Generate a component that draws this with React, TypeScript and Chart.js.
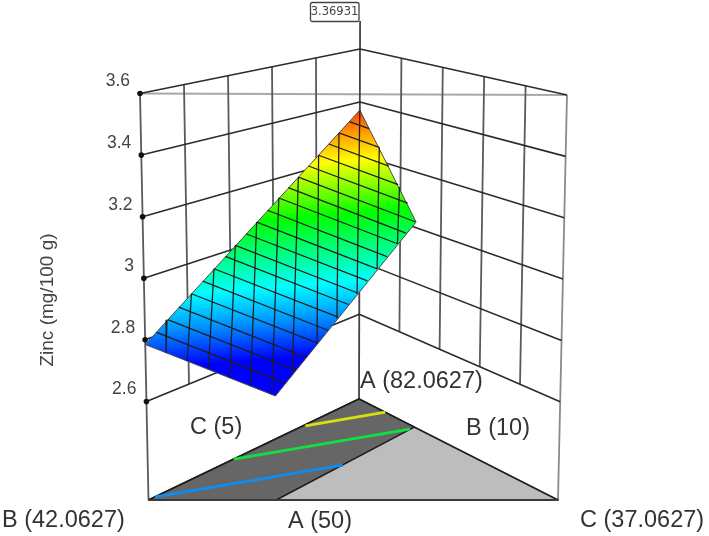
import React, { useEffect, useRef } from "react";
import { Chart, registerables } from "chart.js";

Chart.register(...registerables);

// Mixture bounds
const aMin = 50;
const aMax = 82.0627;
const bMin = 10;
const cMin = 5;
const mixRange = aMax - aMin;
const mixTotal = aMax + bMin + cMin;

// Zinc axis
const zincTicks = [2.6, 2.8, 3.0, 3.2, 3.4, 3.6];
const zincTickLabels = ["2.6", "2.8", "3", "3.2", "3.4", "3.6"];
const zincFloor = 2.28;
const zincTop = 3.6;
const calloutValue = 3.36931;
const calloutTopZinc = 3.706;

// A levels of the wall grid
const wallALevels = [56.41, 62.83, 69.24, 75.65];

// Design region corners: [A, C, zinc]
const surfaceCorners = [
  [50, 5, 2.785],
  [50, 15.0, 2.618],
  [73.15, 13.91, 3.021],
  [82.0627, 5, 3.36931],
];

// Mesh family 1: constant-A lines. A, zinc at C=5, C at far end, zinc at far end
const meshA = [51.7, 53.4, 55.1, 57.0, 58.7, 60.4, 62.1, 63.6, 65.2, 66.8, 68.4, 70.1, 71.5, 73.0, 74.5, 76.0, 77.5, 79.0, 80.6];
const meshAZincNear = [2.811, 2.839, 2.867, 2.897, 2.926, 2.955, 2.984, 3.011, 3.039, 3.068, 3.098, 3.129, 3.156, 3.183, 3.213, 3.242, 3.273, 3.304, 3.335];
const meshACFar = [14.92, 14.84, 14.76, 14.67, 14.59, 14.51, 14.43, 14.36, 14.29, 14.21, 14.14, 14.06, 13.99, 13.92, 12.56, 11.06, 9.56, 8.06, 6.46];
const meshAZincFar = [2.645, 2.673, 2.701, 2.732, 2.761, 2.791, 2.82, 2.847, 2.876, 2.905, 2.935, 2.967, 2.994, 3.023, 3.079, 3.135, 3.192, 3.251, 3.31];

// Mesh family 2: cross lines. Upper end [A, C, zinc], lower end [A, C, zinc]
const ribUpper = [
  [53.3, 5, 2.838], [57.0, 5, 2.897], [60.4, 5, 2.955], [63.6, 5, 3.011],
  [66.8, 5, 3.068], [70.1, 5, 3.129], [73.0, 5, 3.183], [76.0, 5, 3.242],
  [79.0, 5, 3.304], [82.0627, 5, 3.369], [79.0, 8.06, 3.251], [75.8, 11.26, 3.128],
];
const ribLower = [
  [50, 6.59, 2.759], [50, 8.21, 2.732], [50, 9.84, 2.705], [50, 11.48, 2.677],
  [50, 13.08, 2.65], [50, 14.72, 2.623], [52.8, 14.87, 2.663], [56.9, 14.68, 2.731],
  [60.2, 14.52, 2.788], [63.5, 14.37, 2.845], [66.8, 14.21, 2.905], [70.1, 14.06, 2.967],
];

// Floor contours: [A, C] endpoints
const contourLevels = [2.8, 3.0, 3.2];
const contourColors = ["#0f8cf0", "#10e040", "#d8e010"];
const contourStart = [[51, 5], [63, 5], [73.5, 5.2]];
const contourEnd = [[61.1, 14.5], [72.5, 13.9], [77.9, 9.2]];

// Surface colours by zinc
const colourZinc = [3.369, 3.31, 3.236, 3.093, 2.912, 2.82, 2.72];
const colourHex = ["#ff3c00", "#ff9a00", "#ffff00", "#00ff00", "#00ffff", "#0090ff", "#0000ff"];

// Picture corners of the box: floor then top
const cornerFloor = { L: [148.5, 500], B: [359, 399], R: [558, 500] };
const cornerTop = { L: [140, 93.5], B: [360, 49], R: [567, 95] };

function project(a: number, c: number, z: number) {
  const wB = (a - aMin) / mixRange;
  const wR = (c - cMin) / mixRange;
  const wL = 1 - wB - wR;
  const f = (z - zincFloor) / (zincTop - zincFloor);
  const at = (i: number) =>
    wL * (cornerFloor.L[i] + (cornerTop.L[i] - cornerFloor.L[i]) * f) +
    wB * (cornerFloor.B[i] + (cornerTop.B[i] - cornerFloor.B[i]) * f) +
    wR * (cornerFloor.R[i] + (cornerTop.R[i] - cornerFloor.R[i]) * f);
  return { x: at(0), y: at(1) };
}

const rightC = (a: number) => mixTotal - bMin - a;

type Pt = { x: number; y: number };

function line(data: Pt[], color: string, width: number, extra: Record<string, unknown> = {}) {
  return { type: "scatter", data, showLine: true, borderColor: color, borderWidth: width, pointRadius: 0, fill: false, tension: 0, clip: false, borderCapStyle: "butt", borderJoinStyle: "round", ...extra };
}

function area(data: Pt[], fillColor: unknown, border: string, width: number) {
  return line([...data, data[0]], border, width, { fill: "shape", backgroundColor: fillColor });
}

function buildDatasets() {
  const ds: any[] = [];
  const gridDark = "#2c2c2c";
  const gridGrey = "#5a5a5a";

  // Front top edge
  ds.push(line([project(aMin, cMin, zincTop), project(aMin, rightC(aMin), zincTop)], "#a8a8a8", 2));

  // Wall verticals
  for (const a of wallALevels) {
    ds.push(line([project(a, cMin, zincTicks[0]), project(a, cMin, zincTop)], gridGrey, 1.8));
    ds.push(line([project(a, rightC(a), zincTicks[0]), project(a, rightC(a), zincTop)], gridGrey, 1.8));
  }
  // Corner verticals
  ds.push(line([project(aMin, cMin, zincFloor), project(aMin, cMin, zincTop)], gridGrey, 1.8));
  ds.push(line([project(aMin, rightC(aMin), zincFloor), project(aMin, rightC(aMin), zincTop)], "#8a8a8a", 1.8));
  ds.push(line([project(aMax, cMin, zincFloor), project(aMax, cMin, calloutTopZinc)], "#444444", 1.8));

  // Wall levels
  for (const z of zincTicks) {
    ds.push(line([project(aMin, cMin, z), project(aMax, cMin, z), project(aMin, rightC(aMin), z)], gridDark, 1.6));
  }
  // Tick dots
  ds.push({ type: "scatter", data: zincTicks.map((z) => project(aMin, cMin, z)), showLine: false, pointRadius: 2.8, pointBackgroundColor: "#111111", pointBorderWidth: 0, clip: false });

  // Floor
  const fL = project(aMin, cMin, zincFloor);
  const fB = project(aMax, cMin, zincFloor);
  const fR = project(aMin, rightC(aMin), zincFloor);
  ds.push(area([fL, fB, fR], "#bdbdbd", "#1c1c1c", 1.8));
  ds.push(area(surfaceCorners.map(([a, c]) => project(a, c, zincFloor)), "#666666", "#1c1c1c", 1.5));
  ds.push(line([fL, fR], "#3a3a3a", 2));
  contourLevels.forEach((_, i) => {
    ds.push(line([project(contourStart[i][0], contourStart[i][1], zincFloor), project(contourEnd[i][0], contourEnd[i][1], zincFloor)], contourColors[i], 2.8));
  });

  // Surface
  const surfacePts = surfaceCorners.map(([a, c, z]) => project(a, c, z));
  const gradient = (ctx: any) => {
    const chart = ctx.chart;
    const { x, y } = chart.scales;
    const top = surfacePts[3];
    const x0 = x ? x.getPixelForValue(top.x) : NaN;
    const y0 = y ? y.getPixelForValue(top.y) : NaN;
    if (!Number.isFinite(x0) || !Number.isFinite(y0)) return "#00ff00";
    const span = colourZinc[0] - 2.6;
    const g = chart.ctx.createLinearGradient(x0, y0, x0 + 0.08 * 285, y0 + 285);
    colourZinc.forEach((z, i) => g.addColorStop(Math.min(1, (colourZinc[0] - z) / span), colourHex[i]));
    return g;
  };
  ds.push(area(surfacePts, gradient, "#4a4a4a", 1));

  // Mesh
  meshA.forEach((a, i) => {
    ds.push(line([project(a, cMin, meshAZincNear[i]), project(a, meshACFar[i], meshAZincFar[i])], "#1e1e1e", 1.25));
  });
  ribUpper.forEach((u, i) => {
    const l = ribLower[i];
    ds.push(line([project(u[0], u[1], u[2]), project(l[0], l[1], l[2])], "#1e1e1e", 1.25));
  });

  return ds.reverse();
}

const textPlugin = {
  id: "labels",
  afterDatasetsDraw(chart: any) {
    const { ctx, scales } = chart;
    const px = (p: Pt) => ({ x: scales.x.getPixelForValue(p.x), y: scales.y.getPixelForValue(p.y) });
    const ink = "#333333";
    ctx.save();
    ctx.textBaseline = "middle";
    // Zinc tick labels
    ctx.font = "17.5px 'Liberation Sans'";
    ctx.fillStyle = "#444444";
    ctx.textAlign = "right";
    zincTicks.forEach((z, i) => {
      const p = px(project(aMin, cMin, z));
      ctx.fillText(zincTickLabels[i], p.x - 10, p.y - 12);
    });
    // Axis title
    ctx.save();
    ctx.translate(48, 300);
    ctx.rotate(-Math.PI / 2);
    ctx.textAlign = "center";
    ctx.font = "19px 'Liberation Sans'";
    ctx.fillText("Zinc (mg/100 g)", 0, 0);
    ctx.restore();
    // Mixture labels
    ctx.font = "23.5px 'Liberation Sans'";
    ctx.fillStyle = ink;
    ctx.textAlign = "left";
    const floorLabels: [string, number, number][] = [
      [`A (${aMax})`, 360, 382],
      ["C (" + cMin + ")", 190, 428],
      ["B (" + bMin + ")", 466, 429],
      [`B (${(mixTotal - aMin - cMin).toFixed(4)})`, 2, 521],
      ["A (" + aMin + ")", 288, 522],
      [`C (${(mixTotal - aMin - bMin).toFixed(4)})`, 580, 521],
    ];
    floorLabels.forEach(([t, x, y]) => ctx.fillText(t, x, y));
    // Callout
    ctx.fillStyle = "#ffffff";
    ctx.strokeStyle = "#444444";
    ctx.lineWidth = 1.3;
    ctx.beginPath();
    ctx.roundRect(310.5, 2.5, 48.5, 19, 1.5);
    ctx.fill();
    ctx.stroke();
    ctx.fillStyle = "#444444";
    ctx.textAlign = "center";
    ctx.font = "11.5px 'DejaVu Sans'";
    ctx.fillText(String(calloutValue), 334.5, 12);
    ctx.restore();
  },
};

export default function App() {
  const ref = useRef<HTMLCanvasElement>(null);
  useEffect(() => {
    const chart = new Chart(ref.current!, {
      type: "scatter",
      data: { datasets: buildDatasets() },
      options: {
        animation: false,
        responsive: false,
        layout: { padding: 0, autoPadding: false },
        scales: {
          x: { type: "linear", min: 0, max: 709, display: false },
          y: { type: "linear", min: 0, max: 536, reverse: true, display: false },
        },
        plugins: { legend: { display: false }, tooltip: { enabled: false } },
      },
      plugins: [textPlugin],
    } as any);
    return () => chart.destroy();
  }, []);
  return (
    <canvas
      ref={ref}
      width={709}
      height={536}
      style={{ position: "fixed", left: 0, top: 0, width: 709, height: 536, filter: "blur(0.35px)" }}
    />
  );
}
